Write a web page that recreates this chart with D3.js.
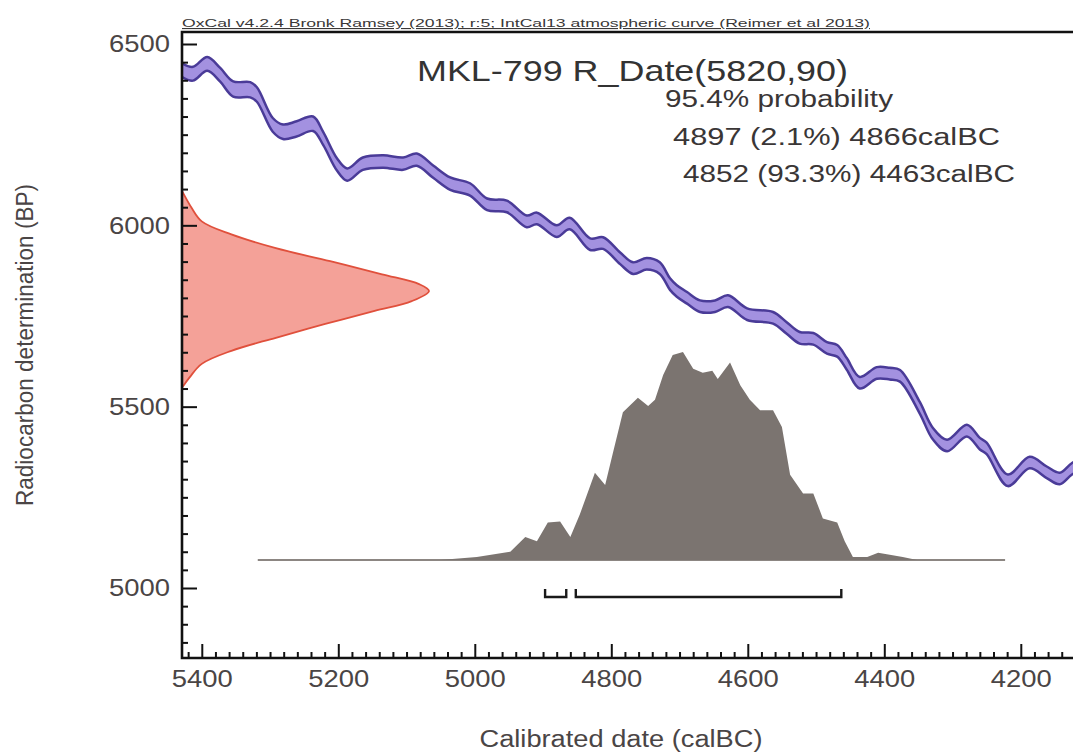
<!DOCTYPE html>
<html>
<head>
<meta charset="utf-8">
<script src="https://cdn.jsdelivr.net/npm/d3@7"></script>
<style>
  body { margin: 0; background: #fff; }
  text { font-family: "Liberation Sans", Arial, sans-serif; }
</style>
</head>
<body>
<script>
// calibration curve (IntCal13)
const curveBC  = [5429, 5413, 5392, 5373, 5354, 5329, 5319, 5296, 5281, 5261, 5237, 5222, 5202, 5187, 5164, 5134, 5105, 5085, 5061, 5036, 5007, 4982, 4953, 4924, 4909, 4880, 4861, 4831, 4812, 4787, 4768, 4748, 4729, 4714, 4704, 4689, 4670, 4648, 4629, 4601, 4563, 4543, 4524, 4504, 4484, 4469, 4455, 4436, 4411, 4392, 4377, 4348, 4329, 4308, 4279, 4260, 4250, 4219, 4187, 4162, 4143, 4124, 4100];
const curveBP  = [6428, 6418, 6445, 6415, 6376, 6374, 6360, 6277, 6258, 6266, 6280, 6239, 6168, 6140, 6170, 6176, 6170, 6181, 6148, 6115, 6099, 6058, 6052, 6011, 6019, 5984, 6005, 5948, 5951, 5909, 5882, 5894, 5882, 5838, 5819, 5800, 5777, 5777, 5791, 5755, 5745, 5717, 5690, 5687, 5662, 5654, 5618, 5566, 5593, 5591, 5585, 5497, 5426, 5393, 5434, 5398, 5385, 5297, 5346, 5319, 5302, 5330, 5345];
const curveErr = [19, 19, 19, 19, 21, 21, 20, 19, 20, 21, 20, 18, 17, 17, 17, 17, 17, 17, 17, 17, 17, 16, 16, 16, 16, 16, 16, 16, 16, 16, 16, 16, 16, 16, 16, 16, 16, 16, 16, 16, 16, 16, 16, 16, 16, 16, 16, 16, 16, 16, 16, 16, 16, 16, 16, 16, 16, 16, 16, 16, 16, 16, 16];

// radiocarbon measurement R_Date(5820,90), relative density
const dateBP   = [6095, 6047, 6011, 5975, 5937, 5901, 5865, 5838, 5819, 5791, 5764, 5728, 5690, 5654, 5618, 5580, 5552];
const dateProb = [0, 0.04, 0.08, 0.2, 0.38, 0.6, 0.81, 0.96, 1.0, 0.93, 0.78, 0.58, 0.38, 0.2, 0.08, 0.03, 0];

// calibrated distribution, relative probability
const calBC   = [5318, 5051, 4997, 4948, 4926, 4909, 4893, 4875, 4860, 4846, 4824, 4809, 4798, 4783, 4761, 4746, 4736, 4724, 4710, 4695, 4680, 4666, 4652, 4644, 4626, 4611, 4597, 4582, 4563, 4550, 4538, 4519, 4504, 4490, 4469, 4458, 4446, 4425, 4409, 4392, 4373, 4352, 4223];
const calProb = [0, 0, 0.015, 0.04, 0.11, 0.09, 0.18, 0.185, 0.11, 0.22, 0.42, 0.36, 0.51, 0.71, 0.78, 0.74, 0.77, 0.89, 0.985, 1.0, 0.92, 0.9, 0.91, 0.87, 0.95, 0.84, 0.77, 0.72, 0.72, 0.64, 0.41, 0.32, 0.32, 0.2, 0.18, 0.09, 0.015, 0.015, 0.035, 0.025, 0.015, 0, 0];

// 95.4% ranges
const rangeFrom = [4897, 4852];
const rangeTo   = [4866, 4463];

const yTicks = [5000, 5500, 6000, 6500];
const xTicks = [5400, 5200, 5000, 4800, 4600, 4400, 4200];

const width = 1073;
const height = 752;
const plotLeft = 182, plotTop = 32, plotBottom = 658;

const svg = d3.select('body').append('svg')
    .attr('width', width)
    .attr('height', height);

const x = d3.scaleLinear().domain([5429, 4100]).range([plotLeft, plotLeft + 1329 * 0.6825]);
const y = d3.scaleLinear().domain([5000, 6500]).range([588, 44]);

// pixel scales for the two distributions
const dateW = d3.scaleLinear().domain([0, 1]).range([plotLeft, 429]);
const calH = d3.scaleLinear().domain([0, 1]).range([560, 352]);

svg.append("clipPath").attr("id", "plot")
    .append("rect")
    .attr("x", plotLeft).attr("y", plotTop)
    .attr("width", width - plotLeft).attr("height", plotBottom - plotTop);

const plot = svg.append("g").attr("clip-path", "url(#plot)");

drawCurve();
drawDate();
drawCalibrated();
drawRanges();
drawAxes();
drawTexts();

function drawCurve() {
    const pts = curveBC.map((d, i) => ({ bc: d, bp: curveBP[i], e: curveErr[i] }));

    const band = d3.area()
        .x(d => x(d.bc))
        .y0(d => y(d.bp - d.e))
        .y1(d => y(d.bp + d.e))
        .curve(d3.curveCatmullRom);

    plot.append("path")
        .attr("d", band(pts))
        .attr("fill", "#a391e0")
        .attr("stroke", "none");

    [1, -1].forEach(s => {
        const edge = d3.line()
            .x(d => x(d.bc))
            .y(d => y(d.bp + s * d.e))
            .curve(d3.curveCatmullRom);
        plot.append("path")
            .attr("d", edge(pts))
            .attr("fill", "none")
            .attr("stroke", "#4a3b98")
            .attr("stroke-width", 2.5);
    });
}

function drawDate() {
    const pts = dateBP.map((d, i) => ({ bp: d, p: dateProb[i] }));

    const area = d3.area()
        .y(d => y(d.bp))
        .x0(plotLeft)
        .x1(d => dateW(d.p))
        .curve(d3.curveCatmullRom);

    plot.append("path")
        .attr("d", area(pts))
        .attr("fill", "#f4a198");

    const edge = d3.line()
        .y(d => y(d.bp))
        .x(d => dateW(d.p))
        .curve(d3.curveCatmullRom);

    plot.append("path")
        .attr("d", edge(pts))
        .attr("fill", "none")
        .attr("stroke", "#e0503c")
        .attr("stroke-width", 1.8);
}

function drawCalibrated() {
    const pts = calBC.map((d, i) => ({ bc: d, p: calProb[i] }));

    plot.append("line")
        .attr("x1", x(calBC[0]))
        .attr("x2", x(calBC[calBC.length - 1]))
        .attr("y1", calH(0))
        .attr("y2", calH(0))
        .attr("stroke", "#8c8682")
        .attr("stroke-width", 2);

    const area = d3.area()
        .x(d => x(d.bc))
        .y0(calH(0))
        .y1(d => calH(d.p))
        .curve(d3.curveLinear);

    plot.append("path")
        .attr("d", area(pts))
        .attr("fill", "#7b7470");
}

function drawRanges() {
    const g = svg.append("g")
        .attr("stroke", "#1a1a1a")
        .attr("stroke-width", 2.4)
        .attr("fill", "none");

    rangeFrom.forEach((d, i) => {
        const x1 = x(d), x2 = x(rangeTo[i]);
        g.append("path")
            .attr("d", `M${x1},589 L${x1},597 L${x2},597 L${x2},589`);
    });
}

function drawAxes() {
    const minorY = d3.range(4850, 6501, 50).filter(v => !yTicks.includes(v));
    const minorX = d3.range(4120, 5421, 20).filter(v => !xTicks.includes(v));

    const yMinor = svg.append("g")
        .attr("transform", `translate(${plotLeft},0)`)
        .call(d3.axisLeft(y).tickValues(minorY).tickSize(-6).tickSizeOuter(0).tickFormat(""));
    yMinor.select(".domain").remove();

    const xMinor = svg.append("g")
        .attr("transform", `translate(0,${plotBottom})`)
        .call(d3.axisBottom(x).tickValues(minorX).tickSize(-6).tickSizeOuter(0).tickFormat(""));
    xMinor.select(".domain").remove();

    const yAxis = svg.append("g")
        .attr("transform", `translate(${plotLeft},0)`)
        .call(d3.axisLeft(y).tickValues(yTicks).tickSize(-15).tickSizeOuter(0)
            .tickPadding(12).tickFormat(d3.format("d")));
    yAxis.select(".domain").remove();

    const xAxis = svg.append("g")
        .attr("transform", `translate(0,${plotBottom})`)
        .call(d3.axisBottom(x).tickValues(xTicks).tickSize(-14).tickSizeOuter(0)
            .tickPadding(12).tickFormat(d3.format("d")));
    xAxis.select(".domain").remove();

    svg.selectAll(".tick line")
        .attr("stroke", "#111")
        .attr("stroke-width", 2);

    svg.selectAll(".tick text")
        .attr("font-size", 24)
        .attr("fill", "#4a4545")
        .attr("textLength", 61)
        .attr("lengthAdjust", "spacingAndGlyphs");

    // frame: left axis, bottom axis, top border
    svg.append("path")
        .attr("d", `M${width},${plotTop} L${plotLeft},${plotTop} L${plotLeft},${plotBottom} L${width},${plotBottom}`)
        .attr("stroke", "#111")
        .attr("fill", "none")
        .attr("stroke-width", 2.6);
}

function drawTexts() {
    svg.append("text")
        .attr("x", plotLeft)
        .attr("y", 27)
        .attr("font-size", 11)
        .attr("fill", "#3a3838")
        .attr("text-decoration", "underline")
        .attr("textLength", 688)
        .attr("lengthAdjust", "spacingAndGlyphs")
        .text("OxCal v4.2.4 Bronk Ramsey (2013); r:5; IntCal13 atmospheric curve (Reimer et al 2013)");

    svg.append("text")
        .attr("x", 417)
        .attr("y", 81)
        .attr("font-size", 30)
        .attr("fill", "#333")
        .attr("textLength", 431)
        .attr("lengthAdjust", "spacingAndGlyphs")
        .text("MKL-799 R_Date(5820,90)");

    const info = [
        { t: "95.4% probability", x: 665, y: 107, w: 228 },
        { t: "4897 (2.1%) 4866calBC", x: 673, y: 145, w: 327 },
        { t: "4852 (93.3%) 4463calBC", x: 683, y: 182, w: 332 }
    ];
    info.forEach(d => {
        svg.append("text")
            .attr("x", d.x)
            .attr("y", d.y)
            .attr("font-size", 23)
            .attr("fill", "#3a3636")
            .attr("textLength", d.w)
            .attr("lengthAdjust", "spacingAndGlyphs")
            .text(d.t);
    });

    svg.append("text")
        .attr("transform", "translate(33,345) rotate(-90)")
        .attr("text-anchor", "middle")
        .attr("font-size", 23)
        .attr("fill", "#4a4545")
        .attr("textLength", 322)
        .attr("lengthAdjust", "spacingAndGlyphs")
        .text("Radiocarbon determination (BP)");

    svg.append("text")
        .attr("x", 621)
        .attr("y", 747)
        .attr("text-anchor", "middle")
        .attr("font-size", 23)
        .attr("fill", "#4a4545")
        .attr("textLength", 283)
        .attr("lengthAdjust", "spacingAndGlyphs")
        .text("Calibrated date (calBC)");
}
</script>
</body>
</html>
